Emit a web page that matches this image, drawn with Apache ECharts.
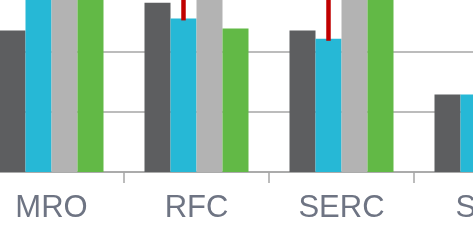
<!DOCTYPE html>
<html>
<head>
<meta charset="utf-8">
<script src="https://cdn.jsdelivr.net/npm/echarts@6/dist/echarts.min.js"></script>
<style>
html,body{margin:0;padding:0;background:#fff;}
#c{width:473px;height:245px;}
</style>
</head>
<body>
<div id="c"></div>
<script>
const categories = ['MRO', 'RFC', 'SERC', 'SPP'];
const seriesDark  = [23.6, 28.2, 23.6, 12.9];
const seriesBlue  = [33.0, 25.6, 22.2, 12.9];
const seriesGray  = [36.0, 34.0, 35.0, null];
const seriesGreen = [34.0, 23.9, 33.0, null];
// red range lines on the blue bars: [categoryIndex, low, high]
const redRanges = [[1, 25.6, 31.0], [2, 22.2, 31.0]];
const yTicks = { min: 0, max: 40, interval: 10 };

const BAR_W = 26;
const chart = echarts.init(document.getElementById('c'), null, { renderer: 'canvas' });
const colors = ['#5d5e60', '#26b8d6', '#b3b3b3', '#62b946'];

chart.setOption({
  animation: false,
  grid: { left: -21, width: 580, top: -68, height: 240, containLabel: false, outerBoundsMode: 'none' },
  xAxis: {
    type: 'category',
    data: categories,
    axisLine: { lineStyle: { color: '#a6a6a6', width: 1.5 } },
    axisTick: { show: true, length: 11, lineStyle: { color: '#a6a6a6', width: 1.5 } },
    axisLabel: {
      color: '#6e7483',
      fontSize: 31,
      fontFamily: 'Liberation Sans, Arial, sans-serif',
      margin: 21,
      interval: 0
    }
  },
  yAxis: {
    type: 'value',
    min: yTicks.min, max: yTicks.max, interval: yTicks.interval,
    axisLabel: { show: false },
    axisLine: { show: false },
    axisTick: { show: false },
    splitLine: { lineStyle: { color: '#a6a6a6', width: 1.5 } }
  },
  series: [
    { type: 'bar', data: seriesDark,  barWidth: BAR_W, barGap: '0%', itemStyle: { color: colors[0] } },
    { type: 'bar', data: seriesBlue,  barWidth: BAR_W, barGap: '0%', itemStyle: { color: colors[1] } },
    { type: 'bar', data: seriesGray,  barWidth: BAR_W, barGap: '0%', itemStyle: { color: colors[2] } },
    { type: 'bar', data: seriesGreen, barWidth: BAR_W, barGap: '0%', itemStyle: { color: colors[3] } },
    {
      type: 'custom',
      data: redRanges,
      z: 10,
      renderItem: function (params, api) {
        const p1 = api.coord([api.value(0), api.value(1)]);
        const p2 = api.coord([api.value(0), api.value(2)]);
        const x = p1[0] - BAR_W / 2;
        return {
          type: 'line',
          shape: { x1: x, y1: p1[1] + 2, x2: x, y2: p2[1] },
          style: { stroke: '#c00000', lineWidth: 4.5 }
        };
      }
    }
  ]
});
</script>
</body>
</html>
